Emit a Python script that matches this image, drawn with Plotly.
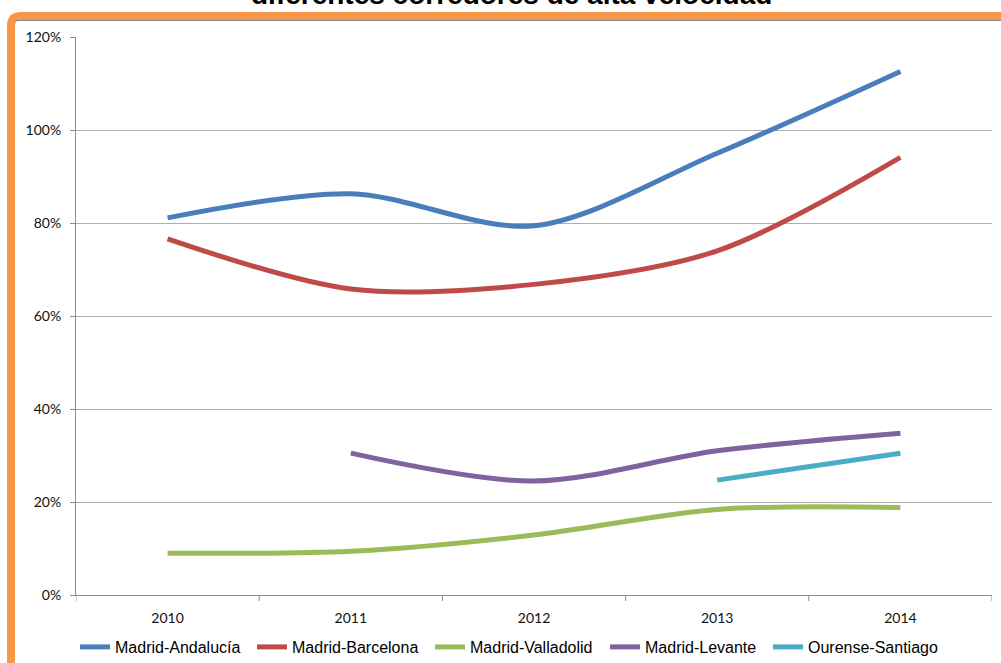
import plotly.graph_objects as go

# Years on the category axis
years = ["2010", "2011", "2012", "2013", "2014"]

# Occupancy by corridor (percent)
andalucia = [81.1, 86.3, 79.4, 95.0, 112.6]
barcelona = [76.6, 65.8, 66.8, 74.0, 94.1]
valladolid = [9.0, 9.4, 12.9, 18.4, 18.8]
levante = [None, 30.5, 24.5, 31.0, 34.8]
ourense = [None, None, None, 24.7, 30.5]

series_names = ["Madrid-Andalucía", "Madrid-Barcelona", "Madrid-Valladolid",
                "Madrid-Levante", "Ourense-Santiago"]
series_values = [andalucia, barcelona, valladolid, levante, ourense]
series_colors = ["#4A7EBB", "#BE4B48", "#9BBB59", "#7F62A0", "#4BACC6"]

y_ticks = [0, 20, 40, 60, 80, 100, 120]
y_tick_text = [f"{v}%" for v in y_ticks]

W, H = 1001, 663
ML, MR, MT, MB = 76, 9, 37, 68
PW, PH = W - ML - MR, H - MT - MB


def px_x(px):
    return (px - ML) / PW


def px_y(py):
    return (H - MB - py) / PH


# Left edge (pixels) of each legend entry along the bottom row
legend_left = [75, 252, 430, 605, 768]
legend_ids = ["legend", "legend2", "legend3", "legend4", "legend5"]

fig = go.Figure()
for name, vals, col, lid in zip(series_names, series_values, series_colors, legend_ids):
    fig.add_trace(go.Scatter(
        x=list(range(len(years))), y=vals, name=name, mode="lines",
        line=dict(color=col, width=5, shape="spline", smoothing=0.9),
        connectgaps=False, hoverinfo="skip", legend=lid,
    ))

legend_font = dict(family="Liberation Sans, Arial", size=16, color="#000000")
legend_layout = {}
for lid, lx in zip(legend_ids, legend_left):
    legend_layout[lid] = dict(
        orientation="h", x=px_x(lx), y=px_y(647), xanchor="left", yanchor="middle",
        font=legend_font, itemwidth=30, bgcolor="rgba(0,0,0,0)",
    )

# Orange frame with rounded top-left corner
x0, y0 = px_x(11), px_y(16)
fig.add_shape(
    type="path", xref="paper", yref="paper",
    path=(f"M {x0},{px_y(700)} L {x0},{px_y(16 + 10)} "
          f"Q {x0},{y0} {px_x(21)},{y0} L {px_x(1020)},{y0}"),
    line=dict(color="#F79646", width=8), layer="above",
)
fig.add_shape(type="line", xref="paper", yref="paper",
              x0=px_x(15.5), x1=px_x(1020), y0=px_y(20.5), y1=px_y(20.5),
              line=dict(color="#8A8A8A", width=1))

fig.add_annotation(
    text="<b>diferentes corredores de alta velocidad</b>",
    xref="paper", yref="paper", x=px_x(511), y=px_y(-6),
    xanchor="center", yanchor="middle", showarrow=False,
    font=dict(family="Liberation Sans, Arial", size=28, color="#000000"),
)

fig.update_layout(
    width=W, height=H,
    margin=dict(l=ML, r=MR, t=MT, b=MB, autoexpand=False),
    paper_bgcolor="white", plot_bgcolor="white",
    showlegend=True,
    xaxis=dict(
        range=[-0.5, 4.5], tickmode="array",
        tickvals=list(range(len(years))), ticktext=years,
        showgrid=False, showline=True, linecolor="#8C8C8C", linewidth=1,
        ticks="", ticklabelstandoff=10,
        tickfont=dict(family="Lato", size=14, color="#111111"),
        fixedrange=True, zeroline=False,
    ),
    yaxis=dict(
        range=[0, 120], tickmode="array", tickvals=y_ticks, ticktext=y_tick_text,
        showgrid=True, gridcolor="#AFAFAF", gridwidth=1,
        showline=True, linecolor="#8C8C8C", linewidth=1,
        ticks="outside", ticklen=5, tickcolor="#8C8C8C",
        ticklabelstandoff=6,
        tickfont=dict(family="Lato", size=14, color="#111111"),
        fixedrange=True, zeroline=False,
    ),
    **legend_layout,
)

# Category-boundary tick marks along the x axis
for k in range(len(years) + 1):
    fig.add_shape(type="line", xref="x", yref="paper",
                  x0=k - 0.5, x1=k - 0.5, y0=0, y1=-6 / PH,
                  line=dict(color="#8C8C8C", width=1))

fig.write_html("out.html")
